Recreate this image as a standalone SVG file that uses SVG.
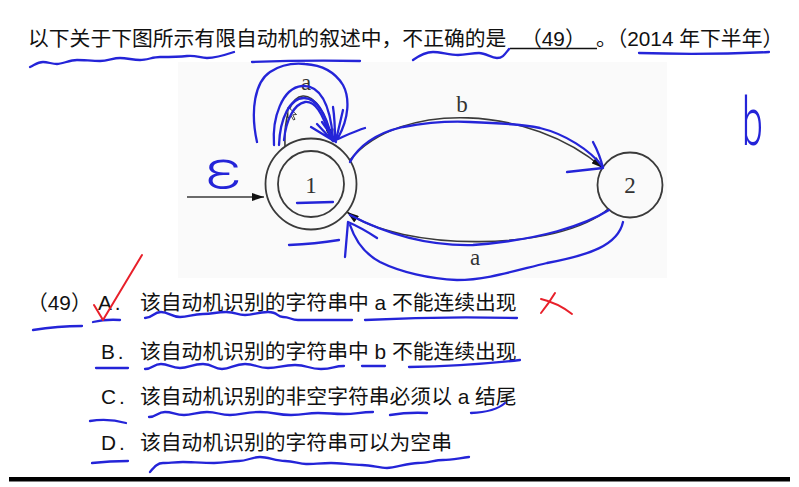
<svg xmlns="http://www.w3.org/2000/svg" width="799" height="487" viewBox="0 0 799 487">
<defs>
<style>
.t{font-family:"Liberation Sans","Noto Sans CJK SC",sans-serif;font-size:20.8px;fill:#111}
.lbl{font-family:"Liberation Serif","Times New Roman",serif;font-size:23px;fill:#333;text-anchor:middle}
.st{fill:none;stroke:#3a3a3a;stroke-width:1.8}
.edge{fill:none;stroke:#3a3a3a;stroke-width:1.6}
.blue{fill:none;stroke:#2424d8;stroke-width:2.3;stroke-linecap:round;stroke-linejoin:round}
.red{fill:none;stroke:#e8202a;stroke-width:2;stroke-linecap:round;stroke-linejoin:round}
.hand{font-family:Roboto,"DejaVu Sans",sans-serif;font-weight:300;fill:#2424d8}
</style>
<marker id="ah" viewBox="0 0 12 8" refX="12" refY="4" markerWidth="12" markerHeight="8" markerUnits="userSpaceOnUse" orient="auto"><path d="M0,0 L12,4 L0,8 Z" fill="#111"/></marker>
</defs>
<rect width="799" height="487" fill="#fff"/>
<rect x="178" y="62" width="489" height="216" fill="#fafafa"/>

<g id="title">
<text class="t" x="28" y="46">以下关于下图所示有限自动机的叙述中，不正确的是</text>
<text class="t" x="521" y="46">（49）</text>
<line x1="510" y1="48.5" x2="597" y2="48.5" stroke="#111" stroke-width="1.6"/>
<text class="t" x="596" y="46">。（2014 年下半年）</text>
</g>

<g id="connectors">
<line class="edge" x1="187" y1="197" x2="264" y2="197" marker-end="url(#ah)"/>
<path class="edge" d="M285 147 C282 80 320 80 332 141" marker-end="url(#ah)"/>
<path class="edge" d="M350 160 C400 100 530 105 603 168" marker-end="url(#ah)"/>
<path class="edge" d="M608 209 C560 252 400 252 347 212" marker-end="url(#ah)"/>
<text class="lbl" x="306" y="90">a</text>
<text class="lbl" x="462" y="112">b</text>
<text class="lbl" x="475" y="265">a</text>
</g>

<g id="node1">
<circle class="st" cx="311" cy="184" r="45.5"/>
<circle class="st" cx="311" cy="184" r="33"/>
<text class="lbl" x="311" y="193">1</text>
</g>
<g id="node2">
<circle class="st" cx="630" cy="185" r="32.5"/>
<text class="lbl" x="630" y="193">2</text>
</g>

<g id="cursor">
<path d="M288 107 L288 118 L291 115.5 L293.5 120 L295 119.3 L292.7 114.8 L296.5 114.5 Z" fill="#fff" stroke="#111" stroke-width="0.8"/>
</g>

<g id="options">
<text class="t" x="27" y="310">（49）</text>
<text class="t" x="98" y="310" letter-spacing="3">A.</text>
<text class="t" x="140" y="310">该自动机识别的字符串中 a 不能连续出现</text>
<text class="t" x="101" y="359" letter-spacing="3">B.</text>
<text class="t" x="140" y="359">该自动机识别的字符串中 b 不能连续出现</text>
<text class="t" x="101" y="404" letter-spacing="3">C.</text>
<text class="t" x="140" y="404">该自动机识别的非空字符串必须以 a 结尾</text>
<text class="t" x="101" y="450" letter-spacing="3">D.</text>
<text class="t" x="140" y="450">该自动机识别的字符串可以为空串</text>
</g>

<rect x="9" y="477" width="781" height="4.5" fill="#000"/>

<g id="annotations">
<path class="blue" d="M30 67 C36 64 38 62 43 62 S52 64 57 64 S70 60 77 60 S92 61 100 61 S113 58 120 58 S133 60 140 60 S153 57 160 57 S178 57 187 56 S200 58 207 58 S225 55 234 52"/>
<path class="blue" d="M252 62 Q305 60 360 61"/>
<path class="blue" d="M413 60 C420 55 426 52 433 52 S450 55 458 55 S472 53 479 53 S491 58 497 58 S505 54 509 49"/>
<path class="blue" d="M639 53 Q705 55 769 52"/>

<path class="blue" d="M257 142 C250 110 255 82 270 72 C282 64 295 63 305 64 C322 65 335 72 343 85 C350 98 349 118 338 138"/>
<path class="blue" d="M274 145 C272 118 282 88 302 86 C320 85 330 105 333 138"/>
<path class="blue" d="M279 145 C280 118 290 98 304 98 C318 98 327 118 332 139"/>
<path class="blue" d="M284 140 C286 120 294 104 305 102 C315 101 322 112 330 136"/>
<path class="blue" d="M311 127 L334 141 M317 124 L333 141 M322 122 L336 142 M333 107 C335 120 335 130 335 141 M343 110 L336 140 M365 128 C355 131 345 136 333 141"/>

<path class="blue" d="M350 162 C358 147 375 133 403 127 C430 122 450 121 470 122 C500 123 520 124 540 128 C565 134 590 150 603 167"/>
<path class="blue" d="M593 142 Q600 155 603 168 M567 172 Q585 170 603 168"/>

<path class="blue" d="M609 210 C585 225 540 240 473 245 C430 246 390 236 350 215"/>
<path class="blue" d="M623 222 C618 245 590 255 547 263 C510 272 485 280 457 280 C430 279 400 272 380 262 C365 254 355 240 350 225"/>
<path class="blue" d="M345 257 L348 222 Q362 228 377 238"/>
<path class="blue" d="M297 203 L333 202"/>
<path class="blue" d="M289 245 Q315 244 339 240"/>

<text class="hand" x="205" y="188" font-size="54" textLength="37" lengthAdjust="spacingAndGlyphs">ε</text>
<text class="hand" x="742" y="145" font-size="66" textLength="21" lengthAdjust="spacingAndGlyphs">b</text>

<path class="blue" d="M33 330 Q58 326 82 326"/>
<path class="blue" d="M93 322 Q106 319 120 320"/>
<path class="blue" d="M145 318 C153 318 153 312 161 312 S171 317 180 317 S192 314 203 314 S215 312 226 312 S236 315 245 315 S257 312 268 312 S276 317 283 317 S291 320 298 320 S312 320 325 320 S339 320 352 320"/>
<path class="blue" d="M365 320 Q440 316 517 318"/>

<path class="blue" d="M96 368 L128 368"/>
<path class="blue" d="M145 369 C153 369 153 364 161 364 S171 368 180 368 S192 364 203 364 S213 369 222 369 S234 364 245 364 S257 368 268 368 S282 365 295 365 S308 369 321 369 S333 366 344 366"/>
<path class="blue" d="M362 366 L385 366"/>
<path class="blue" d="M409 367 Q465 366 520 360"/>

<path class="blue" d="M90 421 Q108 418 126 423"/>
<path class="blue" d="M149 417 C157 417 157 412 165 412 S175 415 184 415 S196 412 207 412 S219 415 230 415 S245 412 260 412 S276 415 291 415 S305 413 318 413 S331 414 344 414 S359 412 373 412"/>
<path class="blue" d="M390 415 Q408 412 427 413"/>
<path class="blue" d="M471 413 Q495 412 505 403"/>

<path class="blue" d="M92 463 Q110 461 128 461"/>
<path class="blue" d="M150 472 C155 466 158 463 163 463 S176 462 183 462 S203 463 214 463 S231 461 239 461 S252 457 260 457 S276 461 285 461 S299 464 306 464 S322 463 331 463 S352 465 362 465 S379 468 387 468 S408 463 418 463 S435 460 443 460 S460 458 469 457"/>

<path class="red" d="M94 305 L103 320 L142 255"/>
<path class="red" d="M555 293 Q549 303 541 313 M541 299 Q558 303 572 314"/>
</g>
</svg>
